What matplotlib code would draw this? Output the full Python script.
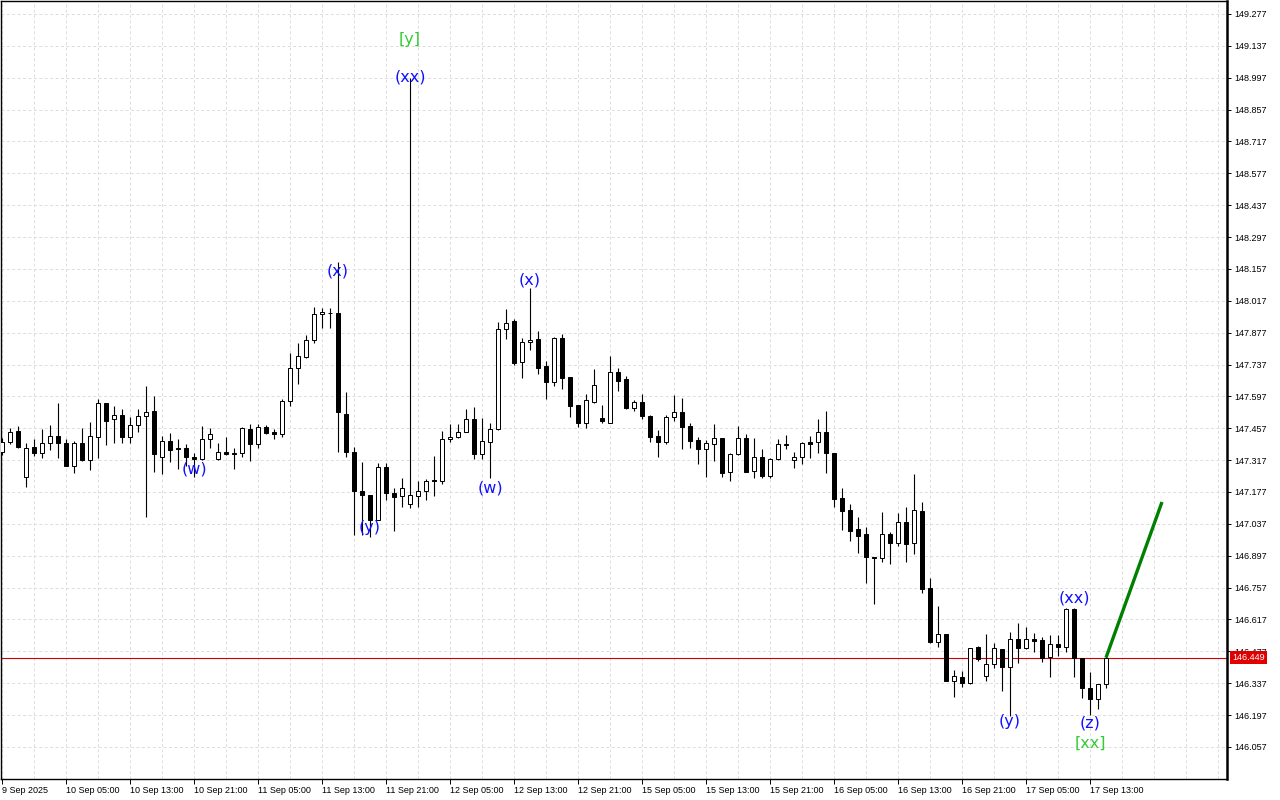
import matplotlib
matplotlib.use("Agg")
import matplotlib.pyplot as plt
import numpy as np

plt.rcParams['font.family'] = ['Liberation Sans', 'DejaVu Sans']

# ---------------- data (USDJPY-like H1 candles) ----------------
opens = [147.351, 147.395, 147.445, 147.244, 147.373, 147.349, 147.391, 147.423, 147.393, 147.292,
         147.393, 147.317, 147.420, 147.567, 147.496, 147.515, 147.420, 147.471, 147.511, 147.533,
         147.332, 147.401, 147.369, 147.369, 147.332, 147.320, 147.408, 147.320, 147.351, 147.348,
         147.347, 147.452, 147.386, 147.462, 147.439, 147.430, 147.577, 147.720, 147.771, 147.845,
         147.958, 147.962, 147.962, 147.518, 147.354, 147.181, 147.164, 147.054, 147.285, 147.171,
         147.159, 147.123, 147.159, 147.181, 147.230, 147.226, 147.408, 147.417, 147.442, 147.496,
         147.342, 147.398, 147.452, 147.892, 147.928, 147.747, 147.835, 147.848, 147.730, 147.661,
         147.852, 147.681, 147.559, 147.481, 147.574, 147.502, 147.482, 147.703, 147.672, 147.545,
         147.571, 147.511, 147.423, 147.398, 147.505, 147.527, 147.467, 147.405, 147.364, 147.386,
         147.413, 147.263, 147.342, 147.413, 147.269, 147.332, 147.248, 147.322, 147.385, 147.317,
         147.329, 147.395, 147.395, 147.439, 147.348, 147.149, 147.098, 147.014, 146.991, 146.893,
         146.886, 146.991, 146.954, 147.046, 146.951, 147.093, 146.753, 146.519, 146.553, 146.348,
         146.365, 146.336, 146.494, 146.370, 146.420, 146.486, 146.406, 146.529, 146.490, 146.529,
         146.526, 146.450, 146.508, 146.494, 146.661, 146.446, 146.314, 146.266, 146.332]
highs = [147.414, 147.459, 147.467, 147.391, 147.408, 147.454, 147.471, 147.567, 147.408, 147.402,
         147.457, 147.483, 147.584, 147.567, 147.555, 147.540, 147.505, 147.541, 147.643, 147.599,
         147.423, 147.437, 147.408, 147.386, 147.349, 147.467, 147.457, 147.391, 147.417, 147.371,
         147.464, 147.474, 147.474, 147.471, 147.452, 147.585, 147.789, 147.830, 147.867, 147.988,
         147.984, 147.984, 148.187, 147.615, 147.376, 147.307, 147.164, 147.303, 147.306, 147.194,
         147.240, 148.996, 147.225, 147.234, 147.336, 147.445, 147.476, 147.474, 147.541, 147.549,
         147.503, 147.479, 147.922, 147.980, 147.936, 147.852, 148.072, 147.884, 147.752, 147.859,
         147.871, 147.681, 147.559, 147.607, 147.716, 147.559, 147.774, 147.720, 147.686, 147.581,
         147.607, 147.515, 147.449, 147.515, 147.603, 147.588, 147.479, 147.420, 147.405, 147.474,
         147.413, 147.347, 147.468, 147.430, 147.413, 147.366, 147.325, 147.410, 147.427, 147.351,
         147.398, 147.423, 147.498, 147.533, 147.349, 147.193, 147.123, 147.065, 147.024, 146.893,
         147.088, 147.000, 147.083, 147.110, 147.256, 147.134, 146.797, 146.676, 146.553, 146.395,
         146.392, 146.491, 146.500, 146.553, 146.515, 146.486, 146.560, 146.602, 146.582, 146.558,
         146.538, 146.548, 146.548, 146.666, 146.666, 146.446, 146.384, 146.332, 146.456]
lows = [147.339, 147.386, 147.371, 147.200, 147.335, 147.327, 147.361, 147.327, 147.290, 147.262,
        147.315, 147.273, 147.327, 147.383, 147.391, 147.391, 147.391, 147.442, 147.068, 147.266,
        147.256, 147.310, 147.278, 147.292, 147.244, 147.317, 147.371, 147.317, 147.339, 147.278,
        147.331, 147.314, 147.371, 147.430, 147.408, 147.420, 147.556, 147.650, 147.767, 147.832,
        147.896, 147.896, 147.354, 147.330, 146.988, 146.988, 146.980, 147.052, 147.142, 147.004,
        147.112, 147.108, 147.112, 147.142, 147.159, 147.211, 147.395, 147.415, 147.440, 147.322,
        147.320, 147.237, 147.449, 147.849, 147.735, 147.679, 147.801, 147.694, 147.584, 147.643,
        147.628, 147.508, 147.464, 147.459, 147.569, 147.479, 147.479, 147.621, 147.543, 147.534,
        147.498, 147.398, 147.332, 147.386, 147.489, 147.366, 147.371, 147.301, 147.241, 147.314,
        147.244, 147.227, 147.340, 147.263, 147.237, 147.237, 147.237, 147.316, 147.364, 147.284,
        147.299, 147.327, 147.347, 147.262, 147.112, 147.010, 146.963, 146.910, 146.775, 146.685,
        146.871, 146.860, 146.941, 146.871, 146.904, 146.732, 146.515, 146.497, 146.346, 146.275,
        146.321, 146.334, 146.435, 146.348, 146.405, 146.304, 146.192, 146.424, 146.488, 146.472,
        146.428, 146.365, 146.456, 146.472, 146.363, 146.270, 146.197, 146.222, 146.314]
closes = [147.398, 147.439, 147.376, 147.369, 147.349, 147.391, 147.423, 147.391, 147.292, 147.393,
          147.317, 147.423, 147.567, 147.490, 147.515, 147.417, 147.471, 147.511, 147.527, 147.342,
          147.401, 147.361, 147.364, 147.331, 147.320, 147.408, 147.430, 147.351, 147.342, 147.342,
          147.457, 147.386, 147.462, 147.437, 147.430, 147.577, 147.720, 147.774, 147.845, 147.958,
          147.966, 147.965, 147.527, 147.354, 147.182, 147.164, 147.054, 147.285, 147.171, 147.156,
          147.193, 147.162, 147.181, 147.225, 147.224, 147.408, 147.417, 147.442, 147.496, 147.342,
          147.402, 147.452, 147.892, 147.921, 147.745, 147.835, 147.845, 147.723, 147.661, 147.852,
          147.679, 147.556, 147.481, 147.581, 147.647, 147.490, 147.706, 147.666, 147.545, 147.571,
          147.512, 147.420, 147.398, 147.505, 147.527, 147.464, 147.402, 147.364, 147.391, 147.413,
          147.262, 147.342, 147.413, 147.266, 147.332, 147.248, 147.322, 147.386, 147.387, 147.329,
          147.391, 147.389, 147.439, 147.347, 147.146, 147.095, 147.007, 146.985, 146.893, 146.886,
          146.991, 146.954, 147.046, 146.948, 147.098, 146.750, 146.519, 146.553, 146.348, 146.370,
          146.336, 146.490, 146.443, 146.420, 146.490, 146.406, 146.529, 146.490, 146.529, 146.523,
          146.446, 146.508, 146.494, 146.661, 146.446, 146.314, 146.266, 146.332, 146.449]

current_price = 146.449

ytick_labels = ['146.057', '146.197', '146.337', '146.477', '146.617', '146.757', '146.897',
                '147.037', '147.177', '147.317', '147.457', '147.597', '147.737', '147.877',
                '148.017', '148.157', '148.297', '148.437', '148.577', '148.717', '148.857',
                '148.997', '149.137', '149.277']

xtick_bars = [0, 8, 16, 24, 32, 40, 48, 56, 64, 72, 80, 88, 96, 104, 112, 120, 128, 136]
xtick_labels = ['9 Sep 2025', '10 Sep 05:00', '10 Sep 13:00', '10 Sep 21:00', '11 Sep 05:00',
                '11 Sep 13:00', '11 Sep 21:00', '12 Sep 05:00', '12 Sep 13:00', '12 Sep 21:00',
                '15 Sep 05:00', '15 Sep 13:00', '15 Sep 21:00', '16 Sep 05:00', '16 Sep 13:00',
                '16 Sep 21:00', '17 Sep 05:00', '17 Sep 13:00']

wave_texts = ['[y]', '(xx)', '(x)', '(w)', '(y)', '(w)', '(x)', '(y)', '(xx)', '(z)', '[xx]']
wave_bars = [51, 51, 42, 24, 46, 61, 66, 126, 134, 136, 136]
wave_prices = [149.163, 149.000, 148.148, 147.278, 147.019, 147.194, 148.108,
               146.170, 146.711, 146.162, 146.074]

projection_bars = [138, 145]
projection_prices = [146.449, 147.133]

# ---------------- figure ----------------
W, H = 1280, 800
fig = plt.figure(figsize=(W / 100, H / 100), dpi=100, facecolor='white')
ax = fig.add_axes([1 / W, 21 / H, 1226 / W, 778 / H])
ax.set_facecolor('white')
ax.set_xlim(-0.125, 153.125)
ax.set_ylim(145.916, 149.334)

grid_kw = dict(color='#dedede', lw=0.72, ls=(0, (3.0, 2.4)), zorder=0)
yt = [float(s) for s in ytick_labels]
for y in yt:
    ax.axhline(y, **grid_kw)
for xb in range(0, 154, 4):
    ax.axvline(xb, **grid_kw)

n = len(opens)
idx = np.arange(n)
o = np.array(opens); c = np.array(closes)
hi = np.array(highs); lo = np.array(lows)

ax.axhline(current_price, color='#d40000', lw=0.8, zorder=1.5)

ax.vlines(idx, lo, hi, color='black', lw=0.8, zorder=2)
bottoms = np.minimum(o, c)
heights = np.abs(c - o)
colors = ['white' if cc >= oo else 'black' for oo, cc in zip(o, c)]
ax.bar(idx, heights, bottom=bottoms, width=0.5, color=colors, edgecolor='black',
       linewidth=0.72, zorder=3)

ax.plot(projection_bars, projection_prices, color='#008000', lw=2.4, zorder=4,
        solid_capstyle='butt')

for t, b, p in zip(wave_texts, wave_bars, wave_prices):
    col = '#33cc33' if t.startswith('[') else '#1010ff'
    ax.text(b, p, t, ha='center', va='center', fontsize=11.5, color=col,
            family='DejaVu Sans', zorder=5)

# axes styling
for s in ['left', 'top', 'bottom']:
    ax.spines[s].set_color('black')
    ax.spines[s].set_linewidth(1.0)
ax.spines['right'].set_linewidth(1.8)

ax.yaxis.tick_right()
ax.set_yticks(yt)
ax.set_yticklabels(ytick_labels)
ax.tick_params(axis='y', direction='out', length=3, width=0.7, pad=2,
               labelsize=6.5, colors='black')

ax.set_xticks(xtick_bars)
ax.set_xticklabels(xtick_labels, ha='left')
ax.tick_params(axis='x', direction='out', length=3.5, width=0.7, pad=1.5,
               labelsize=6.5, colors='black')

ax.annotate(f'{current_price:.3f}', xy=(1, current_price), xycoords=ax.get_yaxis_transform(),
            xytext=(3.5, 0), textcoords='offset points', ha='left', va='center',
            fontsize=6.5, color='white', annotation_clip=False, zorder=10,
            bbox=dict(boxstyle='square,pad=0.25', fc='#e00000', ec='none'))

fig.savefig('out.png', dpi=100, facecolor='white')
